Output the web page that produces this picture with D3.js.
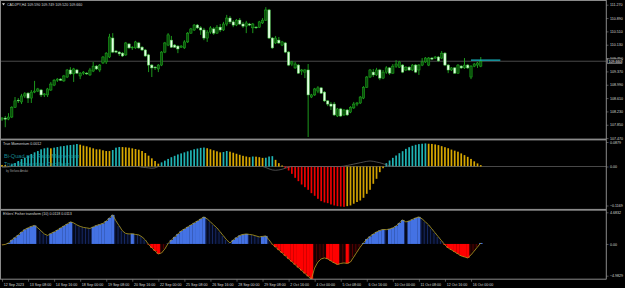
<!DOCTYPE html>
<html><head><meta charset="utf-8">
<script src="https://cdn.jsdelivr.net/npm/d3@7"></script>
<style>html,body{margin:0;padding:0;background:#000;}svg{display:block}</style>
</head><body>
<svg id="c" width="625" height="288"></svg>
<script>
const symbolLabel = "CADJPY,H4  109.590 109.749 109.520 109.660";
const momLabel = "True Momentum 0.0012";
const fisherLabel = "Ehlers' Fisher transform (10) 0.0118 0.0113";
const timeLabels = ["12 Sep 2023","13 Sep 08:00","14 Sep 16:00","18 Sep 00:00","19 Sep 08:00","20 Sep 16:00","22 Sep 00:00","25 Sep 08:00","26 Sep 16:00","28 Sep 00:00","29 Sep 08:00","2 Oct 16:00","4 Oct 00:00","5 Oct 08:00","6 Oct 16:00","10 Oct 00:00","11 Oct 08:00","12 Oct 16:00","16 Oct 00:00"];
const priceTicks = [107.470,107.850,108.230,108.610,108.990,109.370,109.750,110.130,110.510,110.890,111.270];
const lastPrice = 109.660;
const cyanLevel = 109.69;
const cyanBars = [144, 153];
const momTicks = [0.0879, 0, -0.1169];
const fisherTicks = [4.6832, 0, -4.9829];

const open = [108.01,108.04,108.01,108.07,108.35,108.55,108.50,108.67,108.75,108.61,
108.78,108.81,108.84,108.70,108.70,108.84,108.98,109.12,109.15,109.10,
109.21,109.41,109.30,109.41,109.24,109.32,109.32,109.27,109.38,109.52,
109.41,109.61,109.64,109.78,110.32,109.95,109.92,109.89,109.84,110.15,
110.04,110.04,110.18,110.06,109.98,109.84,109.55,109.49,109.44,109.55,
109.92,110.12,110.26,110.12,110.09,110.06,110.04,110.21,110.46,110.55,
110.69,110.61,110.55,110.32,110.49,110.58,110.46,110.63,110.55,110.72,
110.89,110.78,110.69,110.83,110.72,110.66,110.72,110.61,110.63,110.63,
110.75,110.83,111.12,110.32,110.18,110.26,110.12,110.18,109.92,109.58,
109.47,109.55,109.38,109.35,109.41,108.64,108.70,108.81,108.90,108.78,
108.53,108.44,108.44,108.10,108.30,108.13,108.27,108.21,108.33,108.44,
108.47,108.61,108.92,109.21,109.35,109.27,109.41,109.18,109.35,109.47,
109.32,109.52,109.49,109.55,109.41,109.49,109.41,109.55,109.41,109.55,
109.64,109.55,109.75,109.75,109.78,109.75,109.89,109.55,109.41,109.47,
109.32,109.52,109.47,109.55,109.21,109.52,109.55,109.52];
const close = [108.04,108.01,108.07,108.35,108.53,108.53,108.67,108.73,108.61,108.78,
108.81,108.87,108.70,108.73,108.87,109.01,109.12,109.15,109.12,109.24,
109.41,109.30,109.44,109.32,109.32,109.35,109.30,109.41,109.52,109.44,
109.55,109.78,109.89,110.35,109.92,109.92,109.87,109.81,110.18,110.04,
110.06,110.21,110.04,109.98,109.81,109.55,109.47,109.47,109.55,109.92,
110.18,110.41,110.06,110.06,110.01,110.09,110.21,110.46,110.58,110.69,
110.61,110.55,110.32,110.49,110.61,110.46,110.63,110.55,110.72,110.89,
110.78,110.69,110.83,110.72,110.66,110.75,110.69,110.72,110.62,110.78,
110.83,111.12,110.32,110.04,110.32,110.18,110.21,109.92,109.55,109.64,
109.58,109.32,109.41,109.41,108.70,108.70,108.87,108.90,108.75,108.53,
108.44,108.38,108.13,108.30,108.10,108.27,108.13,108.35,108.44,108.47,
108.64,108.92,109.21,109.41,109.27,109.41,109.18,109.35,109.47,109.32,
109.52,109.58,109.64,109.35,109.49,109.41,109.55,109.35,109.55,109.64,
109.75,109.75,109.72,109.78,109.67,109.89,109.55,109.41,109.47,109.32,
109.55,109.47,109.55,109.47,109.52,109.58,109.61,109.66];
const high = [108.07,108.10,108.18,108.38,108.64,108.61,108.73,108.78,108.78,108.84,
109.10,108.90,108.87,108.75,108.90,109.07,109.15,109.18,109.18,109.27,
109.44,109.49,109.47,109.44,109.35,109.38,109.35,109.47,109.64,109.55,
109.58,109.81,109.92,110.44,110.46,109.98,109.95,109.92,110.21,110.18,
110.09,110.24,110.21,110.09,110.01,109.87,109.58,109.52,109.58,109.95,
110.21,110.46,110.38,110.15,110.12,110.12,110.26,110.49,110.61,110.72,
110.72,110.66,110.61,110.55,110.66,110.63,110.69,110.72,110.78,110.98,
110.95,110.83,110.86,110.89,110.78,110.81,110.75,110.75,110.66,110.81,
110.89,111.20,111.15,110.35,110.38,110.35,110.24,110.21,109.95,109.67,
109.64,109.58,109.44,109.44,109.58,108.73,108.90,108.95,108.92,108.81,
108.55,108.50,108.50,108.33,108.33,108.30,108.30,108.38,108.50,108.50,
108.67,108.95,109.24,109.44,109.44,109.47,109.44,109.41,109.52,109.49,
109.58,109.69,109.67,109.58,109.52,109.52,109.58,109.58,109.58,109.75,
109.78,109.78,109.78,109.81,109.81,109.95,109.92,109.58,109.49,109.49,
109.58,109.55,109.75,109.58,109.55,109.61,109.64,109.78];
const low = [107.96,107.78,107.98,108.04,108.33,108.47,108.44,108.61,108.47,108.47,
108.75,108.78,108.64,108.64,108.64,108.81,108.95,109.07,109.10,109.07,
109.18,109.27,109.07,109.30,109.15,109.27,109.27,109.24,109.35,109.41,
109.35,109.58,109.58,109.75,109.89,109.89,109.81,109.78,109.81,110.01,
109.98,110.01,110.01,109.95,109.78,109.35,109.21,109.41,109.35,109.52,
109.89,110.09,110.04,110.04,109.89,110.04,110.01,110.18,110.44,110.52,
110.58,110.41,110.26,110.21,110.44,110.41,110.44,110.49,110.52,110.66,
110.72,110.63,110.66,110.69,110.61,110.46,110.66,110.46,110.58,110.61,
110.72,110.81,110.29,110.01,110.15,110.15,110.09,109.89,109.52,109.52,
109.44,109.30,109.27,109.18,107.50,108.61,108.67,108.75,108.73,108.50,
108.38,108.27,108.10,108.07,108.07,108.10,108.10,108.18,108.30,108.38,
108.44,108.58,108.90,109.18,109.21,109.24,109.12,109.15,109.30,109.27,
109.30,109.47,109.47,109.32,109.38,109.38,109.38,109.32,109.27,109.52,
109.61,109.52,109.69,109.72,109.64,109.72,109.52,109.32,109.38,109.30,
109.30,109.44,109.44,109.44,109.15,109.49,109.47,109.49];

const momentum = [0.0043,0.0043,0.0014,0.0063,0.0101,0.0159,0.0217,0.0256,0.0314,0.0362,
0.0411,0.0449,0.0498,0.0527,0.0546,0.0527,0.0546,0.0565,0.0585,0.0594,
0.0614,0.0623,0.0633,0.0652,0.0633,0.0604,0.0585,0.0556,0.0527,0.0498,
0.0497,0.0469,0.0449,0.0448,0.0478,0.0546,0.0565,0.0564,0.0556,0.0546,
0.0527,0.0507,0.0488,0.0449,0.0391,0.0314,0.0237,0.0159,0.0082,0.012,
0.017,0.022,0.027,0.031,0.035,0.038,0.041,0.044,0.047,0.050,
0.052,0.054,0.055,0.053,0.050,0.047,0.044,0.041,0.042,0.045,
0.043,0.040,0.037,0.034,0.031,0.029,0.027,0.029,0.0285,0.027,
0.025,0.0255,0.029,0.030,0.0193,0.0097,0.0029,-0.0048,-0.0116,-0.0213,
-0.0329,-0.0425,-0.0522,-0.0599,-0.0676,-0.0773,-0.085,-0.0937,-0.1005,-0.1043,
-0.1063,-0.1101,-0.113,-0.115,-0.116,-0.1169,-0.115,-0.113,-0.108,-0.103,
-0.0986,-0.0908,-0.0792,-0.0676,-0.0502,-0.0357,-0.0164,-0.005,0.0097,0.0174,
0.0251,0.0319,0.0386,0.0444,0.0512,0.056,0.060,0.063,0.065,0.066,
0.067,0.066,0.0655,0.064,0.062,0.059,0.056,0.053,0.049,0.046,
0.043,0.038,0.033,0.028,0.022,0.015,0.009,0.004];
const momSignal = [-0.002,-0.002,-0.001,
0,0,0,0,0,0,0,0,0,0,0,0,0,0,0,0,0,0,0,0,0,0,0,0,0,0,0,0,0,0,0,0,0,0,0,0,0,0,0,0,
-0.002,-0.003,-0.004,-0.005,-0.004,
0,0,0,0,0,0,0,0,0,0,0,0,0,0,0,0,0,0,0,0,0,0,0,0,0,0,0,0,0,0,0,0,0,
-0.003,-0.007,-0.010,-0.011,-0.010,-0.008,-0.005,-0.002,0,
0,0,0,0,0,0,0,0,0,0,0,0,0,0,0,
0.001,0.003,0.005,0.007,0.009,0.011,0.013,0.015,0.016,0.015,0.013,0.011,0.008,0.005,0.002,0.001,
0,0,0,0,0,0,0,0,0,0,0,0,0,0,0,0,0,0,0,0,0,0,0,0,0,0];
const fisher = [-0.14,-0.07,0.14,0.57,0.92,1.28,1.71,2.06,2.28,2.49,
2.63,2.28,1.85,1.42,1.21,1.49,1.71,1.99,2.28,2.56,
2.84,3.13,2.99,2.70,2.49,2.35,2.28,2.20,2.42,2.63,
2.77,2.92,3.27,3.70,4.13,3.27,2.56,1.85,1.49,1.42,
1.45,1.35,1.28,1.00,0.57,-0.07,-0.57,-1.00,-1.42,-1.28,
-0.71,0.05,0.57,1.00,1.42,1.85,2.13,2.42,2.70,2.99,
3.27,3.56,3.84,3.56,3.13,2.70,2.28,1.71,1.14,0.57,
0.14,0.57,0.92,1.21,1.35,1.42,1.35,1.28,1.14,1.00,
1.07,1.14,0.57,-0.05,-0.45,-0.87,-1.28,-1.70,-2.12,-2.53,
-2.95,-3.36,-3.78,-4.19,-4.60,-4.98,-3.41,-2.56,-2.13,-1.99,
-2.13,-2.42,-2.70,-2.92,-2.77,-2.70,-2.77,-2.56,-1.85,-1.14,
-0.43,0.14,0.71,1.07,1.42,1.71,1.92,2.06,2.03,2.13,
2.28,2.56,2.99,3.41,3.13,3.27,3.49,3.70,3.84,3.56,
3.13,2.70,2.13,1.56,1.00,0.43,-0.14,-0.57,-0.85,-1.14,
-1.42,-1.71,-1.85,-1.99,-1.56,-1.00,-0.43,0.14];

// ---------- layout ----------
const W = 625, H = 288;
const plotR = 606;
const P1 = {top: 1, bottom: 138.5};
const P2 = {top: 140.5, bottom: 208.8};
const P3 = {top: 210.8, bottom: 279};
const FONT = "Liberation Sans, Arial, sans-serif";
const FS = 3.6;
const textCol = "#d8d8d8";

const svg = d3.select("#c");
svg.append("rect").attr("width", W).attr("height", H).attr("fill", "#000");

const x = d3.scaleLinear().domain([0, 144]).range([2, 471]);
const step = x(1) - x(0);
const idx = d3.range(close.length);

const yP = d3.scaleLinear().domain([107.47, 111.27]).range([138.1, 4.7]);
const yM = d3.scaleLinear().domain([-0.1169, 0.0879]).range([206.8, 136.2]);
const yF = d3.scaleLinear().domain([-4.9829, 4.6832]).range([279, 211]);

const defs = svg.append("defs");
[["c1",P1],["c2",P2],["c3",P3]].forEach(([id,p])=>{
  defs.append("clipPath").attr("id", id).append("rect")
    .attr("x", 0).attr("y", p.top).attr("width", plotR).attr("height", p.bottom - p.top);
});

// ---------- pane 1 : candles ----------
const g1 = svg.append("g").attr("clip-path", "url(#c1)");
g1.append("line").attr("x1", 0).attr("x2", plotR)
  .attr("y1", yP(lastPrice)).attr("y2", yP(lastPrice))
  .attr("stroke", "#4a4a4a").attr("stroke-width", 1);

g1.selectAll("line.wick").data(idx).join("line").attr("class","wick")
  .attr("x1", i => x(i)).attr("x2", i => x(i))
  .attr("y1", i => yP(high[i])).attr("y2", i => yP(low[i]))
  .attr("stroke", "#1fa81f").attr("stroke-width", 0.9);
const bw = 2.3;
g1.selectAll("rect.body").data(idx).join("rect").attr("class","body")
  .attr("x", i => x(i) - bw/2).attr("width", bw)
  .attr("y", i => yP(Math.max(open[i], close[i])))
  .attr("height", i => Math.max(0.6, Math.abs(yP(open[i]) - yP(close[i]))))
  .attr("fill", i => close[i] >= open[i] ? "#0b4f0b" : "#e4ffe4")
  .attr("stroke", i => close[i] >= open[i] ? "#1fb41f" : "#58d858")
  .attr("stroke-width", 0.5);

g1.append("line").attr("x1", x(cyanBars[0])).attr("x2", x(cyanBars[1]))
  .attr("y1", yP(cyanLevel)).attr("y2", yP(cyanLevel))
  .attr("stroke", "#17b8c4").attr("stroke-width", 1.1);

// header
svg.append("path").attr("d", "M2,3.2 L5,3.2 L3.5,5.4 Z").attr("fill", textCol);
svg.append("text").attr("x", 7).attr("y", 5.6).text(symbolLabel)
  .attr("font-family", FONT).attr("font-size", FS).attr("fill", textCol);

// ---------- pane 2 : momentum ----------
const g2 = svg.append("g").attr("clip-path", "url(#c2)");
g2.append("line").attr("x1", 0).attr("x2", plotR).attr("y1", yM(0)).attr("y2", yM(0))
  .attr("stroke", "#5a5a5a").attr("stroke-width", 0.8);
function momColor(i){
  const v = momentum[i], p = i > 0 ? momentum[i-1] : v;
  if (v >= 0) return v > p ? "#20b4b4" : "#d8a800";
  return v < p ? "#ee0000" : "#d0a000";
}
const mw = 1.7;
g2.selectAll("rect.m").data(idx).join("rect").attr("class","m")
  .attr("x", i => x(i) - mw/2).attr("width", mw)
  .attr("y", i => Math.min(yM(0), yM(momentum[i])))
  .attr("height", i => Math.abs(yM(momentum[i]) - yM(0)))
  .attr("fill", momColor);
g2.append("path").datum(idx)
  .attr("d", d3.line().x(i => x(i)).y(i => yM(momSignal[i])))
  .attr("fill", "none").attr("stroke", "#6a6a6a").attr("stroke-width", 0.7);

svg.append("text").attr("x", 3).attr("y", 145.2).text(momLabel)
  .attr("font-family", FONT).attr("font-size", FS).attr("fill", textCol);
svg.append("text").attr("x", 4).attr("y", 157.5).text("Bi-Quad and Ratio Momentum")
  .attr("font-family", FONT).attr("font-size", 5.6).attr("fill", "#1a9fa8").attr("opacity", 0.85);
svg.append("text").attr("x", 4).attr("y", 166).text("True Momentum Oscillator")
  .attr("font-family", FONT).attr("font-size", 5.6).attr("fill", "#1a9fa8").attr("opacity", 0.85);
svg.append("text").attr("x", 6).attr("y", 171.5).text("by Stefano Amdat")
  .attr("font-family", FONT).attr("font-size", 2.8).attr("fill", "#9a9a9a");

// ---------- pane 3 : fisher ----------
const g3 = svg.append("g").attr("clip-path", "url(#c3)");
function fRising(i){ return i > 0 ? fisher[i] > fisher[i-1] : true; }
g3.selectAll("rect.f").data(idx).join("rect").attr("class","f")
  .attr("x", i => x(i) - step/2).attr("width", step + 0.15)
  .attr("y", i => Math.min(yF(0), yF(fisher[i])))
  .attr("height", i => Math.abs(yF(fisher[i]) - yF(0)))
  .attr("fill", i => {
    const v = fisher[i], r = fRising(i);
    if (v >= 0) return r ? "#4472e4" : "#050a1c";
    return r ? "#180000" : "#ff0000";
  });
const stripeIdx = idx.filter(i => (fisher[i] >= 0) !== fRising(i));
g3.selectAll("line.s").data(stripeIdx).join("line").attr("class","s")
  .attr("x1", i => x(i) - step/2 + 0.4).attr("x2", i => x(i) - step/2 + 0.4)
  .attr("y1", yF(0)).attr("y2", i => yF(fisher[i]))
  .attr("stroke", i => fisher[i] >= 0 ? "#2d4fb8" : "#a00000")
  .attr("stroke-width", 0.6).attr("opacity", 0.8);
g3.append("path").datum(idx)
  .attr("d", d3.line().x(i => x(i)).y(i => yF(fisher[i])))
  .attr("fill", "none").attr("stroke", "#b39e22").attr("stroke-width", 0.8);

svg.append("text").attr("x", 3).attr("y", 215.4).text(fisherLabel)
  .attr("font-family", FONT).attr("font-size", FS).attr("fill", textCol);

// ---------- frame ----------
const frame = "#8a8a8a";
svg.append("rect").attr("x", 0).attr("y", 138.6).attr("width", plotR).attr("height", 1.8).attr("fill", frame);
svg.append("rect").attr("x", 0).attr("y", 208.9).attr("width", plotR).attr("height", 1.8).attr("fill", frame);
svg.append("line").attr("x1", 0).attr("x2", plotR).attr("y1", 0.5).attr("y2", 0.5).attr("stroke", frame);
svg.append("line").attr("x1", 0.5).attr("x2", 0.5).attr("y1", 0).attr("y2", 279).attr("stroke", frame);
svg.append("line").attr("x1", 0).attr("x2", plotR).attr("y1", 279.2).attr("y2", 279.2).attr("stroke", frame);
svg.append("line").attr("x1", plotR + 0.3).attr("x2", plotR + 0.3).attr("y1", 0).attr("y2", 279.5).attr("stroke", frame);

// ---------- right axes ----------
function styleAxis(g){
  g.select(".domain").remove();
  g.selectAll(".tick line").attr("stroke", frame).attr("stroke-width", 0.6);
  g.selectAll(".tick text").attr("fill", textCol).attr("font-family", FONT).attr("font-size", FS);
}
const ax1 = svg.append("g").attr("transform", `translate(${plotR},0)`)
  .call(d3.axisRight(yP).tickValues(priceTicks).tickFormat(d3.format(".3f")).tickSize(2.5).tickPadding(1.5));
styleAxis(ax1);

// last price box
const lp = svg.append("g").attr("transform", `translate(${plotR + 1.5},${yP(lastPrice)})`);
lp.append("rect").attr("x", 0).attr("y", -2.3).attr("width", 14.5).attr("height", 4.6)
  .attr("fill", "#000").attr("stroke", "#d0d0d0").attr("stroke-width", 0.5);
lp.append("text").attr("x", 1).attr("y", 1.3).text(d3.format(".3f")(lastPrice))
  .attr("font-family", FONT).attr("font-size", FS).attr("fill", "#ffffff");

const ax2 = svg.append("g").attr("transform", `translate(${plotR},0)`)
  .call(d3.axisRight(yM).tickValues([0]).tickFormat(() => "0.00").tickSize(2.5).tickPadding(1.5));
styleAxis(ax2);
const ax3 = svg.append("g").attr("transform", `translate(${plotR},0)`)
  .call(d3.axisRight(yF).tickValues([0]).tickFormat(() => "0.00").tickSize(2.5).tickPadding(1.5));
styleAxis(ax3);
// pane max/min labels (drawn at pane edges like the terminal does)
[[momTicks[0], P2.top + 3.2, ".4f"], [momTicks[2], P2.bottom - 1.6, ".4f"],
 [fisherTicks[0], P3.top + 3.2, ".4f"], [fisherTicks[2], P3.bottom - 1.6, ".4f"]].forEach(([v, yy, f]) => {
  svg.append("line").attr("x1", plotR).attr("x2", plotR + 2.5).attr("y1", yy - 1.2).attr("y2", yy - 1.2)
    .attr("stroke", frame).attr("stroke-width", 0.6);
  svg.append("text").attr("x", plotR + 4).attr("y", yy).text(d3.format(f)(v))
    .attr("font-family", FONT).attr("font-size", FS).attr("fill", textCol);
});

// ---------- time axis ----------
const axT = svg.append("g").attr("transform", "translate(0,279.2)")
  .call(d3.axisBottom(x).tickValues(d3.range(0, 145, 8)).tickFormat((d, i) => timeLabels[i]).tickSize(2.5).tickPadding(1.8));
axT.select(".domain").remove();
axT.selectAll(".tick line").attr("stroke", frame).attr("stroke-width", 0.6);
axT.selectAll(".tick text").attr("text-anchor", "start").attr("dx", 1.2)
  .attr("fill", textCol).attr("font-family", FONT).attr("font-size", FS);
</script>
</body></html>
